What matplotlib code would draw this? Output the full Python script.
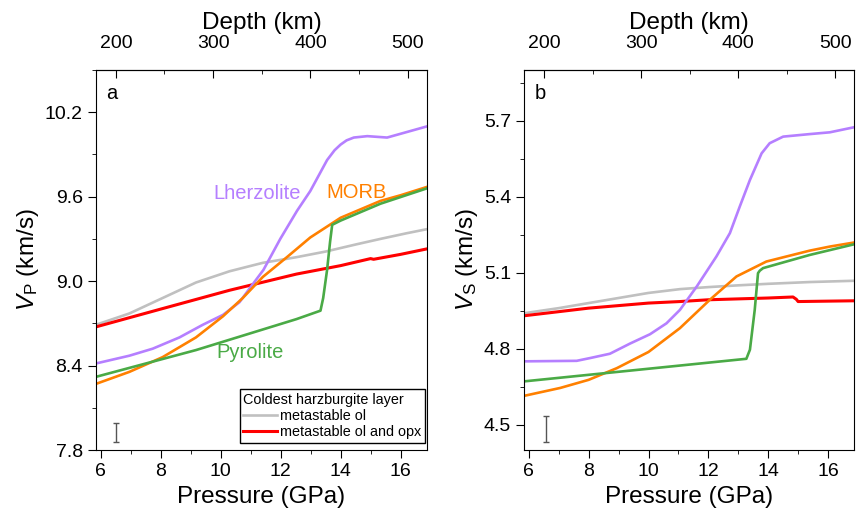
import matplotlib
matplotlib.use("Agg")
import matplotlib.pyplot as plt
from matplotlib.ticker import MultipleLocator, FixedLocator

plt.rcParams['font.family'] = ['Liberation Sans', 'DejaVu Sans']
plt.rcParams['mathtext.fontset'] = 'custom'
plt.rcParams['mathtext.rm'] = 'Liberation Sans'
plt.rcParams['mathtext.it'] = 'Liberation Sans:italic'

# colours
C_LHZ = '#b57fff'
C_MORB = '#ff8000'
C_PYR = '#4aaa46'
C_OL = '#c0c0c0'
C_OPX = '#ff0000'

# ---- panel a: Vp ----
p_gray_a = [5.85, 6.96, 8.07, 9.18, 10.3, 11.41, 12.53, 13.5, 14.5, 15.33, 16.2, 16.9]
vp_gray = [8.69, 8.77, 8.88, 8.99, 9.07, 9.13, 9.17, 9.21, 9.26, 9.30, 9.34, 9.37]

p_red_a = [5.85, 8.07, 10.3, 12.53, 14.0, 14.9, 15.0, 15.1, 16.0, 16.9]
vp_red = [8.675, 8.805, 8.935, 9.05, 9.11, 9.155, 9.16, 9.155, 9.19, 9.23]

p_lhz_a = [5.85, 6.96, 7.74, 8.63, 9.41, 10.08, 10.63, 11.08, 11.43, 11.99, 12.55,
           12.99, 13.55, 13.8, 14.0, 14.2, 14.44, 14.89, 15.55, 16.22, 16.89]
vp_lhz = [8.415, 8.47, 8.52, 8.60, 8.69, 8.76, 8.85, 8.98, 9.08, 9.30, 9.50,
          9.64, 9.86, 9.93, 9.97, 10.0, 10.02, 10.03, 10.02, 10.06, 10.10]

p_morb_a = [5.85, 6.96, 8.07, 9.18, 10.08, 10.74, 11.41, 12.21, 12.99, 14.0, 15.33, 16.0, 16.89]
vp_morb = [8.27, 8.355, 8.46, 8.60, 8.75, 8.88, 9.03, 9.17, 9.31, 9.45, 9.57, 9.61, 9.67]

p_pyr_a = [5.85, 9.18, 12.53, 13.33, 13.42, 13.55, 13.65, 13.72, 14.0, 15.33, 16.89]
vp_pyr = [8.32, 8.51, 8.73, 8.79, 8.88, 9.08, 9.28, 9.40, 9.43, 9.55, 9.66]

# ---- panel b: Vs ----
p_gray_b = [5.85, 7, 8, 9, 10, 11.05, 12, 13, 14, 15.39, 16.87]
vs_gray = [4.94, 4.96, 4.98, 5.00, 5.02, 5.035, 5.043, 5.05, 5.056, 5.063, 5.068]

p_red_b = [5.85, 8, 10, 11.05, 12, 14, 14.83, 14.94, 15.0, 16.87]
vs_red = [4.93, 4.96, 4.98, 4.986, 4.993, 5.0, 5.004, 4.995, 4.986, 4.989]

p_lhz_b = [5.85, 7.6, 8.05, 8.71, 9.38, 10.05, 10.6, 11.05, 11.61, 12.27, 12.72,
           13.05, 13.39, 13.78, 14.05, 14.5, 15.39, 16.06, 16.87]
vs_lhz = [4.75, 4.752, 4.763, 4.78, 4.82, 4.857, 4.90, 4.953, 5.045, 5.164, 5.256,
          5.361, 5.466, 5.571, 5.611, 5.637, 5.647, 5.654, 5.674]

p_morb_b = [5.85, 7.05, 8.0, 8.94, 10.0, 11.05, 12.05, 12.94, 13.94, 15.39, 16.06, 16.87]
vs_morb = [4.614, 4.645, 4.677, 4.723, 4.787, 4.881, 4.993, 5.085, 5.144, 5.187, 5.203, 5.219]

p_pyr_b = [5.85, 13.27, 13.39, 13.55, 13.66, 13.72, 13.83, 15.39, 16.87]
vs_pyr = [4.671, 4.76, 4.796, 4.953, 5.098, 5.108, 5.118, 5.17, 5.212]

# representative uncertainty bars
err_a = (6.53, 7.927, 0.068)
err_b = (6.58, 4.483, 0.05)

# pressure <-> depth (approx. linear over this range)
def p2d(p):
    return 200 + (p - 6.51) * 100 / 3.243

def d2p(d):
    return 6.51 + (d - 200) * 3.243 / 100


fig = plt.figure(figsize=(8.59, 5.2), dpi=100)
ax_a = fig.add_axes([0.1118, 0.1346, 0.3853, 0.7308])
ax_b = fig.add_axes([0.6104, 0.1346, 0.3842, 0.7308])


def style_axes(ax, ylim, major, minor, ylabel):
    ax.set_xlim(5.85, 16.88)
    ax.set_ylim(*ylim)
    ax.xaxis.set_major_locator(MultipleLocator(2))
    ax.xaxis.set_minor_locator(MultipleLocator(1))
    ax.yaxis.set_major_locator(MultipleLocator(major))
    ax.yaxis.set_minor_locator(MultipleLocator(minor))
    ax.tick_params(which='major', direction='out', length=6, labelsize=14,
                   top=False, right=False)
    ax.tick_params(which='minor', direction='out', length=3, top=False, right=False)
    ax.set_xlabel('Pressure (GPa)', fontsize=17.5, labelpad=4)
    ax.set_ylabel(ylabel, fontsize=17.5, labelpad=3)
    sec = ax.secondary_xaxis('top', functions=(p2d, d2p))
    sec.xaxis.set_major_locator(FixedLocator([200, 300, 400, 500]))
    sec.xaxis.set_minor_locator(FixedLocator([250, 350, 450]))
    sec.tick_params(which='major', direction='in', length=6, labelsize=14, pad=13)
    sec.tick_params(which='minor', direction='in', length=3)
    sec.set_xlabel('Depth (km)', fontsize=17.5, labelpad=4)


# panel a
ax_a.plot(p_gray_a, vp_gray, color=C_OL, lw=1.9, label='metastable ol')
ax_a.plot(p_red_a, vp_red, color=C_OPX, lw=2.2, label='metastable ol and opx')
ax_a.plot(p_lhz_a, vp_lhz, color=C_LHZ, lw=1.9)
ax_a.plot(p_morb_a, vp_morb, color=C_MORB, lw=1.9)
ax_a.plot(p_pyr_a, vp_pyr, color=C_PYR, lw=1.9)
ax_a.errorbar(err_a[0], err_a[1], yerr=err_a[2], color='#555555', lw=1,
              capsize=2.5, capthick=1)
ax_a.text(11.21, 9.62, 'Lherzolite', color=C_LHZ, fontsize=14.5, ha='center', va='center')
ax_a.text(14.53, 9.63, 'MORB', color=C_MORB, fontsize=14.5, ha='center', va='center')
ax_a.text(10.99, 8.49, 'Pyrolite', color=C_PYR, fontsize=14.5, ha='center', va='center')
ax_a.text(0.047, 0.937, 'a', transform=ax_a.transAxes, fontsize=14.5,
          ha='center', va='center')
style_axes(ax_a, (7.8, 10.5), 0.6, 0.3, r'$V_\mathrm{P}$ (km/s)')

leg = ax_a.legend(title='Coldest harzburgite layer', loc='lower right',
                  bbox_to_anchor=(0.994, 0.019), borderaxespad=0,
                  fontsize=10.4, title_fontsize=10.4, frameon=True,
                  fancybox=False, edgecolor='black', framealpha=1,
                  handlelength=2.3, handletextpad=0.25, borderpad=0.25,
                  labelspacing=0.15, alignment='left')
leg.get_frame().set_linewidth(1.0)

# panel b
ax_b.plot(p_gray_b, vs_gray, color=C_OL, lw=1.9)
ax_b.plot(p_red_b, vs_red, color=C_OPX, lw=2.2)
ax_b.plot(p_lhz_b, vs_lhz, color=C_LHZ, lw=1.9)
ax_b.plot(p_morb_b, vs_morb, color=C_MORB, lw=1.9)
ax_b.plot(p_pyr_b, vs_pyr, color=C_PYR, lw=1.9)
ax_b.errorbar(err_b[0], err_b[1], yerr=err_b[2], color='#555555', lw=1,
              capsize=2.5, capthick=1)
ax_b.text(0.047, 0.937, 'b', transform=ax_b.transAxes, fontsize=14.5,
          ha='center', va='center')
style_axes(ax_b, (4.4, 5.9), 0.3, 0.15, r'$V_\mathrm{S}$ (km/s)')

fig.savefig('out.png', dpi=100)
